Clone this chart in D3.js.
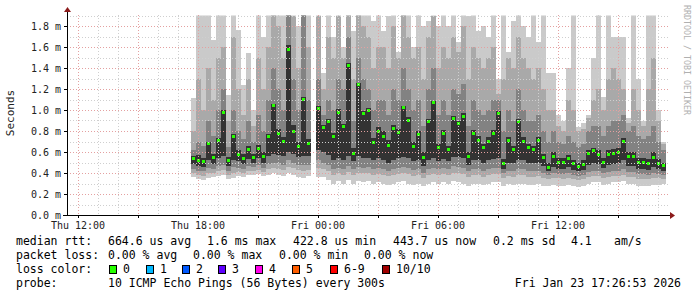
<!DOCTYPE html>
<html>
<head>
<meta charset="utf-8">
<script src="https://cdn.jsdelivr.net/npm/d3@7"></script>
<style>
  body { margin: 0; background: #fff; }
  svg { display: block; }
  text { font-family: "DejaVu Sans Mono", monospace; }
</style>
</head>
<body>
<svg id="chart" width="697" height="297"></svg>
<script>
// time frame of the graph and the sampling of the columns
var graphStart = new Date(2026, 0, 22, 11, 26, 53);
var graphEnd = new Date(2026, 0, 23, 17, 26, 53);
var firstSample = new Date(2026, 0, 22, 17, 40);
var stepMinutes = 15;

// median rtt in ms (null = no data)
var med = [0.54,0.52,0.51,0.68,0.55,0.71,0.98,0.52,0.75,0.58,
  0.54,0.62,0.55,0.63,0.56,0.745,1.04,0.78,0.70,1.58,
  0.80,0.65,1.10,0.68,null,1.01,0.83,0.89,0.75,0.98,
  0.84,1.42,0.59,1.24,0.97,1.00,0.69,0.80,0.75,0.66,
  0.82,0.79,1.02,0.90,0.65,0.77,0.55,0.89,1.07,0.64,
  0.78,0.62,0.92,0.875,0.94,0.555,0.78,0.71,0.64,0.70,
  0.78,0.97,0.49,0.71,0.62,0.89,0.70,0.64,0.62,0.71,
  0.55,0.45,0.56,0.50,0.50,0.54,0.49,0.46,0.48,0.59,
  0.61,0.58,0.50,0.58,0.59,0.60,0.70,0.56,0.56,0.50,
  0.50,0.49,0.55,0.49,0.47];

// smoke: sorted ping ranks, outer (min/max) to inner
var lo1 = [0.36,0.34,0.33,0.35,0.36,0.37,0.38,0.34,0.35,0.37,
  0.36,0.38,0.38,0.39,0.37,0.38,0.40,0.38,0.37,0.40,
  0.38,0.36,0.35,0.37,null,0.36,0.36,0.33,0.30,0.32,
  0.30,0.33,0.30,0.32,0.31,0.32,0.30,0.31,0.30,0.29,
  0.30,0.31,0.32,0.30,0.29,0.30,0.28,0.30,0.31,0.30,
  0.31,0.30,0.32,0.31,0.30,0.28,0.30,0.30,0.29,0.30,
  0.31,0.31,0.28,0.30,0.29,0.30,0.30,0.29,0.29,0.30,
  0.28,0.28,0.29,0.28,0.28,0.29,0.28,0.27,0.28,0.30,
  0.31,0.31,0.29,0.30,0.31,0.31,0.32,0.30,0.30,0.28,
  0.28,0.28,0.29,0.29,0.30];
var hi1 = [1.11,2.0,2.0,2.0,1.67,2.0,2.0,1.14,2.0,1.76,
  1.24,1.54,1.00,2.0,1.70,2.0,2.0,2.0,2.0,2.0,
  2.0,1.80,2.0,2.0,null,2.0,1.35,2.0,1.70,2.0,
  1.60,2.0,1.75,2.0,2.0,2.0,1.85,2.0,1.75,1.90,
  2.0,1.55,2.0,2.0,1.60,2.0,1.80,1.85,2.0,1.80,
  2.0,1.80,2.0,1.65,2.0,1.90,2.0,1.75,1.80,1.70,
  2.0,1.30,2.0,1.55,1.85,2.0,1.80,1.70,2.0,1.65,
  2.0,1.35,1.35,0.95,0.90,1.40,2.0,0.84,0.88,0.95,
  1.50,2.0,1.12,2.0,1.70,1.70,1.70,0.92,2.0,1.30,
  0.90,2.0,2.0,1.00,0.70];
var lo2 = [0.40,0.38,0.37,0.40,0.40,0.42,0.43,0.38,0.40,0.41,
  0.40,0.42,0.42,0.43,0.41,0.44,0.45,0.44,0.43,0.46,
  0.45,0.43,0.42,0.43,null,0.45,0.44,0.42,0.38,0.40,
  0.38,0.41,0.38,0.40,0.40,0.40,0.38,0.39,0.38,0.37,
  0.38,0.39,0.40,0.39,0.37,0.38,0.35,0.38,0.39,0.38,
  0.39,0.38,0.40,0.40,0.39,0.36,0.38,0.38,0.36,0.38,
  0.39,0.39,0.35,0.37,0.36,0.38,0.38,0.36,0.36,0.37,
  0.35,0.34,0.35,0.35,0.34,0.35,0.34,0.33,0.34,0.36,
  0.37,0.37,0.35,0.36,0.37,0.37,0.38,0.36,0.36,0.34,
  0.34,0.34,0.35,0.35,0.34];
var hi2 = [0.80,1.30,1.00,1.40,1.10,1.50,1.60,0.90,1.70,1.20,
  0.95,1.30,0.85,1.50,1.20,1.60,2.0,1.80,1.50,2.0,
  1.90,1.40,2.0,1.60,null,1.90,1.20,1.70,1.50,1.90,
  1.50,2.0,1.30,2.0,1.80,1.70,1.40,1.60,1.60,1.40,
  1.80,1.50,2.0,1.70,1.50,1.60,1.30,1.70,1.90,1.40,
  1.60,1.50,1.70,1.55,1.80,1.30,1.60,1.50,1.40,1.50,
  1.60,1.15,1.30,1.50,1.40,1.70,1.50,1.40,1.30,1.40,
  1.20,1.00,1.00,0.85,0.80,1.10,1.00,0.80,0.82,0.92,
  1.10,1.20,1.00,1.30,1.40,1.30,1.20,0.88,1.20,1.00,
  0.85,1.20,1.50,0.90,0.68];
var lo3 = [0.44,0.42,0.42,0.45,0.44,0.47,0.48,0.42,0.46,0.45,
  0.44,0.47,0.46,0.48,0.45,0.49,0.50,0.50,0.48,0.52,
  0.50,0.48,0.48,0.48,null,0.52,0.50,0.48,0.44,0.45,
  0.44,0.47,0.44,0.46,0.45,0.46,0.44,0.45,0.44,0.42,
  0.44,0.45,0.46,0.45,0.43,0.44,0.40,0.44,0.45,0.44,
  0.45,0.44,0.47,0.46,0.45,0.42,0.44,0.44,0.42,0.44,
  0.45,0.45,0.40,0.42,0.42,0.44,0.44,0.42,0.42,0.42,
  0.40,0.38,0.40,0.39,0.39,0.40,0.38,0.37,0.38,0.41,
  0.42,0.42,0.40,0.41,0.42,0.42,0.44,0.41,0.41,0.39,
  0.39,0.38,0.40,0.39,0.38];
var hi3 = [0.62,0.70,0.66,0.90,0.75,1.00,1.20,0.65,1.00,0.80,
  0.72,0.90,0.70,0.95,0.80,1.10,1.40,1.20,1.00,2.0,
  1.30,1.00,2.0,1.10,null,1.30,0.95,1.10,1.00,1.30,
  1.20,1.70,0.90,1.50,1.30,1.20,1.00,1.10,1.10,0.95,
  1.20,1.10,1.40,1.20,1.00,1.10,0.85,1.20,1.40,0.95,
  1.10,0.95,1.20,1.15,1.25,0.85,1.10,1.00,0.95,1.00,
  1.10,1.10,0.80,1.00,0.90,1.20,1.00,0.90,0.90,0.95,
  0.80,0.70,0.80,0.70,0.68,0.75,0.70,0.65,0.68,0.80,
  0.85,0.85,0.75,0.85,0.90,0.90,0.95,0.80,0.85,0.75,
  0.72,0.75,0.85,0.70,0.62];
var lo4 = [0.49,0.47,0.46,0.52,0.49,0.54,0.56,0.47,0.52,0.51,
  0.49,0.53,0.50,0.54,0.50,0.56,0.58,0.57,0.56,0.60,
  0.58,0.55,0.56,0.56,null,0.62,0.60,0.57,0.52,0.54,
  0.52,0.56,0.51,0.56,0.54,0.54,0.52,0.54,0.52,0.50,
  0.52,0.54,0.55,0.54,0.51,0.52,0.47,0.52,0.54,0.51,
  0.53,0.51,0.55,0.55,0.54,0.48,0.52,0.52,0.50,0.52,
  0.53,0.54,0.44,0.50,0.50,0.52,0.52,0.50,0.50,0.50,
  0.47,0.42,0.46,0.44,0.44,0.46,0.43,0.42,0.43,0.48,
  0.50,0.49,0.45,0.48,0.49,0.50,0.52,0.47,0.47,0.44,
  0.44,0.43,0.46,0.44,0.42];
var hi4 = [0.56,0.57,0.54,0.70,0.58,0.73,1.00,0.55,0.77,0.62,
  0.58,0.66,0.58,0.67,0.60,0.77,1.06,0.82,0.74,1.62,
  0.86,0.70,1.12,0.72,null,1.04,0.86,0.91,0.78,1.01,
  0.87,1.45,0.64,1.26,0.99,1.02,0.73,0.84,0.80,0.71,
  0.86,0.82,1.04,0.93,0.70,0.80,0.60,0.91,1.09,0.68,
  0.81,0.66,0.94,0.90,0.97,0.60,0.81,0.75,0.68,0.74,
  0.81,0.99,0.53,0.74,0.66,0.91,0.74,0.68,0.66,0.74,
  0.58,0.50,0.60,0.54,0.54,0.57,0.52,0.50,0.52,0.62,
  0.64,0.62,0.54,0.62,0.63,0.64,0.73,0.60,0.60,0.54,
  0.54,0.53,0.60,0.53,0.50];

// legend texts
var statLabels = ["664.6 us avg", "1.6 ms max", "422.8 us min", "443.7 us now", "0.2 ms sd", "4.1", "am/s"];
var lossLabels = ["0.00 % avg", "0.00 % max", "0.00 % min", "0.00 % now"];
var lossKeys = ["0", "1", "2", "3", "4", "5", "6-9", "10/10"];
var lossColors = ["#26ff00", "#00b8ff", "#0059ff", "#5e00ff", "#ff00ea", "#ff5e00", "#ff0000", "#a10000"];

var svg = d3.select("#chart");

var x = d3.scaleTime().domain([graphStart, graphEnd]).range([67, 667]);
var y = d3.scaleLinear().domain([0, 1.9]).range([215, 15.5]);

svg.append("defs").append("clipPath").attr("id", "plot")
  .append("rect").attr("x", 67).attr("y", 15.5).attr("width", 600).attr("height", 199.5);

// one record per column
var cols = med.map(function(m, i) {
  var t0 = d3.timeMinute.offset(firstSample, i * stepMinutes);
  return {t0: t0, t1: d3.timeMinute.offset(t0, stepMinutes), med: m,
    bands: [[lo1[i], hi1[i]], [lo2[i], hi2[i]], [lo3[i], hi3[i]], [lo4[i], hi4[i]]]};
}).filter(function(d) { return d.med != null; });

var smokeColors = ["#cacaca", "#a9a9a9", "#828282", "#333333"];

var plot = svg.append("g").attr("clip-path", "url(#plot)");

smokeColors.forEach(function(c, b) {
  plot.append("g").selectAll("rect")
    .data(cols)
    .enter()
    .append("rect")
    .attr("x", function(d) { return x(d.t0); })
    .attr("width", function(d) { return x(d.t1) - x(d.t0); })
    .attr("y", function(d) { return y(d.bands[b][1]); })
    .attr("height", function(d) { return y(d.bands[b][0]) - y(d.bands[b][1]); })
    .attr("fill", c)
    .attr("shape-rendering", "crispEdges");
});

plot.append("g").selectAll("rect")
  .data(cols)
  .enter()
  .append("rect")
  .attr("x", function(d) { return x(d.t0) + 1; })
  .attr("width", function(d) { return x(d.t1) - x(d.t0) - 2; })
  .attr("y", function(d) { return y(d.med) - 1.5; })
  .attr("height", 3)
  .attr("fill", lossColors[0])
  .attr("shape-rendering", "crispEdges");

// grid on top, like rrdtool
var grid = svg.append("g").attr("stroke-width", 1).attr("stroke-dasharray", "1,2");
var yMinor = d3.range(1, 20).map(function(v) { return v / 10; });
grid.selectAll("line.h")
  .data(yMinor)
  .enter()
  .append("line")
  .attr("x1", 67).attr("x2", 668)
  .attr("y1", function(d) { return Math.round(y(d)) + 0.5; })
  .attr("y2", function(d) { return Math.round(y(d)) + 0.5; })
  .attr("stroke", function(d, i) { return (i + 1) % 2 == 0 ? "#e4a0a0" : "#cfcfcf"; });

var hours = d3.timeHour.range(graphStart, graphEnd);
grid.selectAll("line.v")
  .data(hours)
  .enter()
  .append("line")
  .attr("y1", 15).attr("y2", 215)
  .attr("x1", function(d) { return Math.round(x(d)) + 0.5; })
  .attr("x2", function(d) { return Math.round(x(d)) + 0.5; })
  .attr("stroke", function(d) { return d.getHours() % 3 == 0 ? "#e4a0a0" : "#cfcfcf"; });

// axes
var axes = svg.append("g").attr("stroke", "#000").attr("shape-rendering", "crispEdges");
axes.append("line").attr("x1", 67.5).attr("x2", 67.5).attr("y1", 12).attr("y2", 216);
axes.append("line").attr("x1", 63).attr("x2", 670).attr("y1", 215.5).attr("y2", 215.5);
axes.selectAll("line.yt")
  .data(y.ticks(10))
  .enter()
  .append("line")
  .attr("x1", 64).attr("x2", 67)
  .attr("y1", function(d) { return Math.round(y(d)) + 0.5; })
  .attr("y2", function(d) { return Math.round(y(d)) + 0.5; });
axes.selectAll("line.xt")
  .data(hours.filter(function(d) { return d.getHours() % 3 == 0; }))
  .enter()
  .append("line")
  .attr("y1", 215).attr("y2", 218)
  .attr("x1", function(d) { return Math.round(x(d)) + 0.5; })
  .attr("x2", function(d) { return Math.round(x(d)) + 0.5; });

svg.append("path").attr("d", "M64,12 L71,12 L67.5,7 Z").attr("fill", "#8b1a1a");
svg.append("path").attr("d", "M670,212 L670,219 L675,215.5 Z").attr("fill", "#8b1a1a");

// tick labels
svg.append("g").selectAll("text")
  .data(y.ticks(10))
  .enter()
  .append("text")
  .attr("x", 61)
  .attr("y", function(d) { return y(d) + 3.5; })
  .attr("text-anchor", "end")
  .attr("font-size", "10px")
  .attr("fill", "#222")
  .text(function(d) { return d3.format(".1f")(d) + " m"; });

var fmt = d3.timeFormat("%a %H:%M");
svg.append("g").selectAll("text")
  .data(d3.timeHour.every(6).range(graphStart, graphEnd))
  .enter()
  .append("text")
  .attr("x", function(d) { return x(d); })
  .attr("y", 228.5)
  .attr("text-anchor", "middle")
  .attr("font-size", "10px")
  .attr("fill", "#222")
  .text(fmt);

svg.append("text")
  .attr("transform", "translate(14,113) rotate(-90)")
  .attr("text-anchor", "middle")
  .attr("font-size", "11px")
  .attr("fill", "#222")
  .text("Seconds");

svg.append("text")
  .attr("transform", "translate(684,5) rotate(90)")
  .attr("font-size", "8.3px")
  .attr("fill", "#b0b0b0")
  .text("RRDTOOL / TOBI OETIKER");

// legend
var legend = svg.append("g").attr("font-size", "11.5px").attr("fill", "#000");
legend.append("text").attr("x", 16).attr("y", 245).text("median rtt:");
var statX = [108, 207, 293, 393, 493, 571, 614];
statLabels.forEach(function(s, i) {
  legend.append("text").attr("x", statX[i]).attr("y", 245).text(s);
});
legend.append("text").attr("x", 16).attr("y", 259).text("packet loss:");
var lossX = [108, 193, 279, 364];
lossLabels.forEach(function(s, i) {
  legend.append("text").attr("x", lossX[i]).attr("y", 259).text(s);
});
legend.append("text").attr("x", 16).attr("y", 273).text("loss color:");
var boxX = [109, 146, 182, 218, 255, 292, 330, 382];
lossKeys.forEach(function(k, i) {
  legend.append("rect")
    .attr("x", boxX[i] + 0.5).attr("y", 265.5)
    .attr("width", 7).attr("height", 8)
    .attr("fill", lossColors[i])
    .attr("stroke", "#000").attr("stroke-width", 1)
    .attr("shape-rendering", "crispEdges");
  legend.append("text").attr("x", boxX[i] + 14).attr("y", 273).text(k);
});
legend.append("text").attr("x", 16).attr("y", 287).text("probe:");
legend.append("text").attr("x", 108).attr("y", 287).text("10 ICMP Echo Pings (56 Bytes) every 300s");
legend.append("text").attr("x", 681).attr("y", 287).attr("text-anchor", "end").text("Fri Jan 23 17:26:53 2026");
</script>
</body>
</html>
